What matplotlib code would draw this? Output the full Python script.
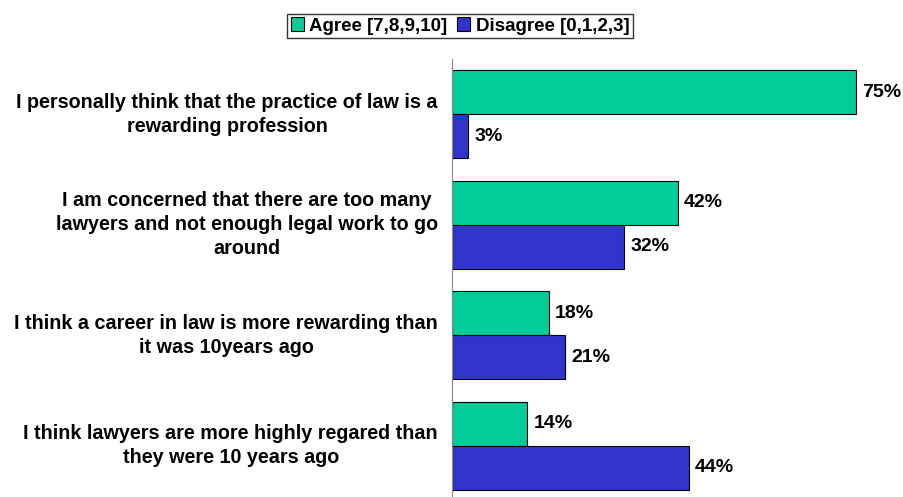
import numpy as np
import matplotlib
matplotlib.use('Agg')
import matplotlib.pyplot as plt
from matplotlib.patches import Patch

statements = [
    'I personally think that the practice of law is a\nrewarding profession',
    'I am concerned that there are too many\nlawyers and not enough legal work to go\naround',
    'I think a career in law is more rewarding than\nit was 10years ago',
    'I think lawyers are more highly regared than\nthey were 10 years ago',
]
agree = [75, 42, 18, 14]
disagree = [3, 32, 21, 44]
series_names = ['Agree [7,8,9,10]', 'Disagree [0,1,2,3]']
colors = ['#00CC99', '#3333CC']

plt.rcParams['font.family'] = ['Liberation Sans', 'DejaVu Sans']
plt.rcParams['font.weight'] = 'bold'

W, H = 904, 497
fig = plt.figure(figsize=(W / 100, H / 100), dpi=100)
# axes: left spine at x=452 px, top at y=59 px, bottom at y=497
ax = fig.add_axes([452 / W, 0, 1 - 452 / W, (H - 59) / H])

n = len(statements)
pitch = 110.5
bar_h = 44 / pitch
y = np.arange(n)
ax.barh(y - bar_h / 2, agree, height=bar_h, color=colors[0],
        edgecolor='black', linewidth=0.8)
ax.barh(y + bar_h / 2, disagree, height=bar_h, color=colors[1],
        edgecolor='black', linewidth=0.8)

# pixel scale: 75% -> 404 px
xmax = (W - 452) / (404 / 75)
ax.set_xlim(0, xmax)
top = -0.5
bottom = top + (H - 59) / pitch
ax.set_ylim(bottom, top)

for i in range(n):
    ax.text(agree[i] + 1.1, y[i] - bar_h / 2, f'{agree[i]}%', va='center',
            ha='left', fontsize=14, fontweight='bold')
    ax.text(disagree[i] + 1.1, y[i] + bar_h / 2, f'{disagree[i]}%', va='center',
            ha='left', fontsize=14, fontweight='bold')

for s in ['top', 'right', 'bottom']:
    ax.spines[s].set_visible(False)
ax.spines['left'].set_color('#888888')
ax.set_xticks([])
ax.set_yticks([])

for i, s in enumerate(statements):
    fig.text(438 / W, 1 - (59 + (y[i] - top) * pitch) / H, s,
             ha='right', va='center', multialignment='center',
             fontsize=14.2, fontweight='bold', linespacing=1.35)

handles = [Patch(facecolor=c, edgecolor='black', linewidth=0.8) for c in colors]
fig.legend(handles, series_names, loc='center', bbox_to_anchor=(460 / W, 1 - 26 / H),
           ncol=2, frameon=True, fancybox=False, edgecolor='black',
           prop={'weight': 'bold', 'size': 13.5}, handlelength=0.7,
           handleheight=0.7, handletextpad=0.3, columnspacing=0.5,
           borderpad=0.2, borderaxespad=0)

fig.savefig('out.png', dpi=100)
